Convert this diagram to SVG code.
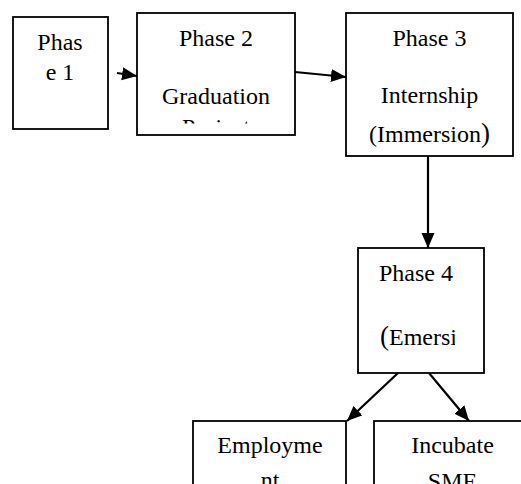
<svg xmlns="http://www.w3.org/2000/svg" width="521" height="484" viewBox="0 0 521 484">
<style>
.box{fill:#fff;stroke:#000;stroke-width:1.8}
text{font-family:'Liberation Serif','Times New Roman',Times,serif;font-size:24px;fill:#000}
.c{text-anchor:middle}
.p{font-size:27px}
.conn{stroke:#000;stroke-width:2.2;fill:none;marker-end:url(#ah)}
</style>
<defs>
<marker id="ah" markerUnits="userSpaceOnUse" markerWidth="16" markerHeight="14" refX="15" refY="6.5" orient="auto">
<path d="M0,0 L15,6.5 L0,13 z" fill="#000"/>
</marker>
<clipPath id="cp2"><rect x="137" y="13" width="158" height="110.5"/></clipPath>
<clipPath id="cp4"><rect x="358" y="248" width="97" height="125"/></clipPath>
</defs>
<rect width="521" height="484" fill="#fff"/>
<g id="connectors">
<line class="conn" x1="117" y1="73" x2="137" y2="76"/>
<line class="conn" x1="295" y1="72" x2="346" y2="77"/>
<line class="conn" x1="428" y1="156" x2="428" y2="248"/>
<line class="conn" x1="398" y1="373" x2="347" y2="421"/>
<line class="conn" x1="429" y1="373" x2="469" y2="421"/>
</g>
<g id="phase1" font-family="'Liberation Serif', serif">
<rect class="box" x="13" y="17" width="95" height="112"/>
<text class="c" x="60" y="50">Phas</text>
<text class="c" x="60" y="80">e 1</text>
</g>
<g id="phase2" font-family="'Liberation Serif', serif">
<rect class="box" x="137" y="13" width="158" height="122"/>
<g clip-path="url(#cp2)">
<text class="c" x="216" y="46">Phase 2</text>
<text class="c" x="216" y="104">Graduation</text>
<text class="c" x="216" y="135">Project</text>
</g>
</g>
<g id="phase3" font-family="'Liberation Serif', serif">
<rect class="box" x="346" y="13" width="167" height="143"/>
<text class="c" x="429.5" y="46">Phase 3</text>
<text class="c" x="429.5" y="103">Internship</text>
<text class="c" x="429.5" y="142">(Immersion<tspan class="p">)</tspan></text>
</g>
<g id="phase4" font-family="'Liberation Serif', serif">
<rect class="box" x="358" y="248" width="126" height="125"/>
<g clip-path="url(#cp4)">
<text x="379" y="281">Phase 4</text>
<text x="380" y="345"><tspan class="p">(</tspan>Emersi</text>
</g>
</g>
<g id="employment" font-family="'Liberation Serif', serif">
<rect class="box" x="193" y="421" width="153" height="80"/>
<text class="c" x="270" y="453">Employme</text>
<text class="c" x="270" y="488">nt</text>
</g>
<g id="incubate" font-family="'Liberation Serif', serif">
<rect class="box" x="374" y="421" width="157" height="80"/>
<text class="c" x="452.5" y="453">Incubate</text>
<text class="c" x="452.5" y="489">SME</text>
</g>
</svg>
